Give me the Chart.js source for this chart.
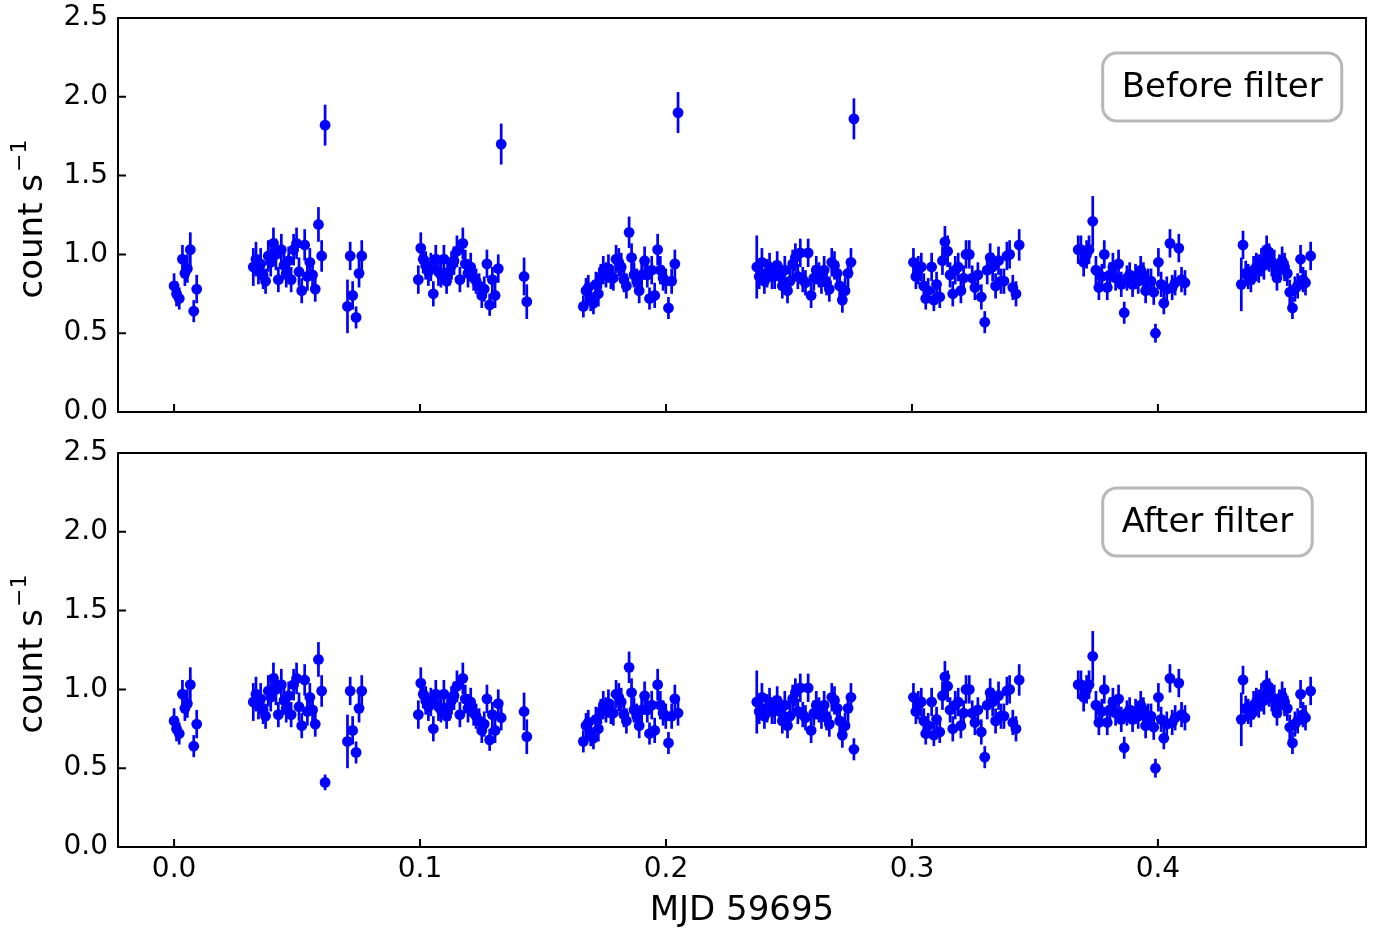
<!DOCTYPE html>
<html>
<head>
<meta charset="utf-8">
<title>Light curve before and after filter</title>
<script src="https://cdn.jsdelivr.net/npm/chart.js@4.4.1/dist/chart.umd.min.js"></script>
<style>
    body { margin: 0; background: #ffffff; overflow: hidden; }
    #wrap { position: relative; width: 1376px; height: 933px; overflow: hidden; }
    canvas { position: absolute; left: 0; }
    #chartBefore { top: -10px; }
    #chartAfter { top: 420px; }
</style>
</head>
<body>
<div id="wrap">
    <canvas id="chartBefore" width="1376" height="450"></canvas>
    <canvas id="chartAfter" width="1376" height="513"></canvas>
</div>
<script>
// tempos (MJD - 59695), um bloco por linha
const mjd = [
    0.0000, 0.0010, 0.0021, 0.0034, 0.0044, 0.0054, 0.0066, 0.0080, 0.0092,
    0.0322, 0.0333, 0.0343, 0.0352, 0.0362, 0.0372, 0.0383, 0.0393, 0.0404, 0.0414, 0.0424, 0.0436, 0.0447, 0.0456, 0.0466, 0.0476, 0.0486, 0.0498, 0.0508, 0.0519, 0.0531, 0.0542, 0.0552, 0.0563, 0.0574, 0.0587, 0.0600, 0.0614,
    0.0705, 0.0716, 0.0726, 0.0740, 0.0752, 0.0763,
    0.0993, 0.1003, 0.1013, 0.1023, 0.1034, 0.1044, 0.1054, 0.1064, 0.1075, 0.1085, 0.1097, 0.1108, 0.1118, 0.1128, 0.1138, 0.1150, 0.1162, 0.1174, 0.1184, 0.1195, 0.1206, 0.1218, 0.1228, 0.1240, 0.1251, 0.1261, 0.1272, 0.1283, 0.1294, 0.1305, 0.1318, 0.1330,
    0.1423, 0.1434,
    0.1664, 0.1675, 0.1684, 0.1694, 0.1705, 0.1715, 0.1725, 0.1735, 0.1745, 0.1756, 0.1766, 0.1776, 0.1786, 0.1797, 0.1808, 0.1818, 0.1829, 0.1839, 0.1850, 0.1860, 0.1870, 0.1881, 0.1891, 0.1901, 0.1913, 0.1924, 0.1933, 0.1942, 0.1954, 0.1966, 0.1977, 0.1988, 0.1999, 0.2010, 0.2023, 0.2036, 0.2049,
    0.2369, 0.2379, 0.2390, 0.2400, 0.2411, 0.2421, 0.2431, 0.2442, 0.2452, 0.2462, 0.2473, 0.2483, 0.2494, 0.2504, 0.2515, 0.2526, 0.2536, 0.2546, 0.2556, 0.2567, 0.2578, 0.2590, 0.2601, 0.2611, 0.2622, 0.2632, 0.2643, 0.2653, 0.2664, 0.2674, 0.2685, 0.2696, 0.2706, 0.2717, 0.2728, 0.2740, 0.2752, 0.2764,
    0.3006, 0.3016, 0.3026, 0.3038, 0.3048, 0.3056, 0.3066, 0.3080, 0.3089, 0.3100, 0.3113, 0.3124, 0.3134, 0.3145, 0.3155, 0.3166, 0.3176, 0.3188, 0.3199, 0.3210, 0.3220, 0.3233, 0.3245, 0.3256, 0.3268, 0.3282, 0.3296, 0.3306, 0.3318, 0.3328, 0.3340, 0.3352, 0.3362, 0.3374, 0.3386, 0.3397, 0.3410, 0.3423, 0.3436,
    0.3676, 0.3687, 0.3698, 0.3710, 0.3720, 0.3735, 0.3748, 0.3760, 0.3772, 0.3782, 0.3794, 0.3805, 0.3817, 0.3828, 0.3840, 0.3851, 0.3863, 0.3874, 0.3885, 0.3897, 0.3909, 0.3920, 0.3930, 0.3941, 0.3950, 0.3960, 0.3972, 0.3983, 0.3990, 0.4002, 0.4013, 0.4024, 0.4036, 0.4049, 0.4058, 0.4070, 0.4085, 0.4096, 0.4110,
    0.4339, 0.4346, 0.4357, 0.4367, 0.4378, 0.4389, 0.4400, 0.4410, 0.4421, 0.4431, 0.4442, 0.4452, 0.4463, 0.4473, 0.4484, 0.4494, 0.4505, 0.4515, 0.4526, 0.4536, 0.4547, 0.4557, 0.4568, 0.4580, 0.4590, 0.4600, 0.4621
]

// taxa de contagem antes do filtro (count/s)
const rateBefore = [
    0.80, 0.75, 0.72, 0.97, 0.88, 0.91, 1.03, 0.64, 0.78,
    0.92, 0.97, 0.90, 0.94, 0.87, 0.83, 0.99, 0.95, 1.07, 1.00, 0.84, 1.03, 0.93, 0.88, 0.96, 0.84, 1.03, 1.07, 0.89, 0.77, 1.06, 0.86, 0.95, 0.87, 0.78, 1.19, 0.99, 1.82,
    0.67, 0.99, 0.74, 0.60, 0.88, 0.99,
    0.84, 1.04, 0.97, 0.93, 0.89, 0.92, 0.75, 0.97, 0.89, 0.87, 0.97, 0.83, 0.89, 0.93, 0.96, 1.02, 0.84, 1.07, 0.94, 0.88, 0.92, 0.85, 0.83, 0.80, 0.74, 0.78, 0.94, 0.68, 0.84, 0.74, 0.91, 1.70,
    0.86, 0.70,
    0.67, 0.77, 0.79, 0.71, 0.69, 0.81, 0.75, 0.86, 0.90, 0.87, 0.91, 0.86, 0.85, 0.97, 0.95, 0.92, 0.84, 0.80, 1.14, 0.98, 0.87, 0.83, 0.77, 0.87, 0.96, 0.87, 0.72, 0.90, 0.74, 1.03, 0.90, 0.85, 0.83, 0.66, 0.83, 0.94, 1.90,
    0.92, 0.86, 0.95, 0.83, 0.88, 0.92, 0.86, 0.87, 0.93, 0.86, 0.80, 0.90, 0.77, 0.83, 0.94, 0.98, 0.86, 1.01, 0.84, 0.82, 1.01, 0.74, 0.85, 0.90, 0.87, 0.83, 0.90, 0.82, 0.78, 0.95, 0.93, 0.88, 0.80, 0.71, 0.77, 0.88, 0.95, 1.86,
    0.95, 0.86, 0.90, 0.92, 0.80, 0.72, 0.77, 0.92, 0.71, 0.81, 0.73, 0.96, 1.08, 1.02, 0.87, 0.75, 0.90, 0.92, 0.77, 0.85, 1.00, 1.00, 0.85, 0.79, 0.87, 0.73, 0.57, 0.90, 0.98, 0.92, 0.80, 0.96, 0.83, 0.83, 0.99, 1.00, 0.79, 0.75, 1.06,
    1.03, 1.03, 0.95, 1.00, 1.03, 1.21, 0.90, 0.79, 0.86, 1.00, 0.79, 0.87, 0.92, 0.85, 0.94, 0.81, 0.63, 0.85, 0.87, 0.81, 0.86, 0.83, 0.90, 0.87, 0.77, 0.83, 0.83, 0.76, 0.50, 0.95, 0.81, 0.69, 0.78, 1.07, 0.79, 0.82, 1.04, 0.84, 0.82,
    0.81, 1.06, 0.88, 0.86, 0.84, 0.90, 0.92, 0.91, 0.95, 0.93, 1.03, 0.98, 0.95, 0.94, 0.85, 0.91, 0.96, 0.92, 0.88, 0.76, 0.66, 0.78, 0.80, 0.97, 0.84, 0.82, 0.99
]

// erro (1 sigma) de cada ponto
const errBefore = [
    0.08, 0.08, 0.07, 0.09, 0.08, 0.09, 0.11, 0.07, 0.09,
    0.12, 0.11, 0.09, 0.10, 0.09, 0.08, 0.10, 0.09, 0.10, 0.10, 0.08, 0.10, 0.09, 0.09, 0.09, 0.08, 0.10, 0.10, 0.09, 0.08, 0.10, 0.09, 0.09, 0.09, 0.08, 0.11, 0.10, 0.13,
    0.17, 0.09, 0.09, 0.07, 0.09, 0.10,
    0.09, 0.10, 0.09, 0.09, 0.09, 0.09, 0.08, 0.09, 0.09, 0.08, 0.09, 0.08, 0.09, 0.09, 0.09, 0.10, 0.08, 0.10, 0.09, 0.09, 0.09, 0.08, 0.08, 0.08, 0.08, 0.08, 0.09, 0.07, 0.08, 0.08, 0.09, 0.13,
    0.12, 0.11,
    0.07, 0.08, 0.08, 0.07, 0.07, 0.08, 0.08, 0.08, 0.09, 0.08, 0.09, 0.08, 0.08, 0.09, 0.09, 0.09, 0.08, 0.08, 0.10, 0.09, 0.08, 0.08, 0.08, 0.08, 0.09, 0.08, 0.07, 0.09, 0.08, 0.10, 0.09, 0.08, 0.08, 0.07, 0.08, 0.09, 0.13,
    0.20, 0.08, 0.09, 0.08, 0.09, 0.09, 0.08, 0.09, 0.09, 0.08, 0.08, 0.09, 0.08, 0.08, 0.09, 0.09, 0.08, 0.09, 0.08, 0.08, 0.09, 0.08, 0.08, 0.09, 0.08, 0.08, 0.09, 0.08, 0.08, 0.09, 0.09, 0.08, 0.08, 0.08, 0.08, 0.09, 0.09, 0.13,
    0.09, 0.08, 0.09, 0.09, 0.08, 0.07, 0.08, 0.09, 0.07, 0.08, 0.07, 0.09, 0.10, 0.10, 0.08, 0.08, 0.09, 0.09, 0.08, 0.08, 0.09, 0.09, 0.08, 0.08, 0.08, 0.08, 0.07, 0.09, 0.09, 0.09, 0.08, 0.09, 0.08, 0.08, 0.09, 0.09, 0.08, 0.08, 0.10,
    0.09, 0.09, 0.09, 0.09, 0.09, 0.16, 0.09, 0.08, 0.08, 0.09, 0.08, 0.08, 0.09, 0.08, 0.09, 0.08, 0.07, 0.08, 0.08, 0.08, 0.08, 0.08, 0.09, 0.08, 0.08, 0.08, 0.08, 0.08, 0.06, 0.09, 0.08, 0.07, 0.08, 0.09, 0.08, 0.08, 0.09, 0.08, 0.08,
    0.17, 0.09, 0.08, 0.08, 0.08, 0.09, 0.09, 0.09, 0.09, 0.09, 0.09, 0.09, 0.09, 0.09, 0.08, 0.09, 0.09, 0.09, 0.08, 0.08, 0.07, 0.08, 0.08, 0.09, 0.08, 0.08, 0.09
]

// pontos que mudam depois do filtro
const flaggedMjd = [0.0614, 0.1330, 0.2049, 0.2764]
const rateFiltered = [0.41, 0.82, 0.85, 0.62]
const errFiltered = [0.05, 0.08, 0.08, 0.07]

const xTickValues = [0.0, 0.1, 0.2, 0.3, 0.4]
const yTickValues = [0.0, 0.5, 1.0, 1.5, 2.0, 2.5]
const xMin = -0.0228
const xMax = 0.4846

const fontFam = '"DejaVu Sans", sans-serif'

let rateAfter = rateBefore.slice()
let errAfter = errBefore.slice()
flaggedMjd.forEach((t, k) => {
    let i = mjd.indexOf(t)
    rateAfter[i] = rateFiltered[k]
    errAfter[i] = errFiltered[k]
})

// barras de erro, moldura, ticks para dentro, titulo do eixo y e caixa de texto
const panelExtras = {
    id: 'panelExtras',
    beforeDatasetsDraw(chart) {
        const ctx = chart.ctx
        const sx = chart.scales.x
        const sy = chart.scales.y
        const ds = chart.data.datasets[0]
        ctx.save()
        ctx.strokeStyle = '#0000ff'
        ctx.lineWidth = 2.7
        ds.data.forEach((p, i) => {
            let px = sx.getPixelForValue(p.x)
            ctx.beginPath()
            ctx.moveTo(px, sy.getPixelForValue(p.y - ds.errors[i]))
            ctx.lineTo(px, sy.getPixelForValue(p.y + ds.errors[i]))
            ctx.stroke()
        })
        ctx.restore()
    },
    afterDraw(chart, args, opts) {
        const ctx = chart.ctx
        const a = chart.chartArea
        const sx = chart.scales.x
        const sy = chart.scales.y
        ctx.save()
        ctx.strokeStyle = '#000000'
        ctx.lineWidth = 2
        ctx.strokeRect(a.left, a.top, a.right - a.left, a.bottom - a.top)

        ctx.beginPath()
        xTickValues.forEach(v => {
            let px = sx.getPixelForValue(v)
            ctx.moveTo(px, a.bottom)
            ctx.lineTo(px, a.bottom - 8)
        })
        yTickValues.forEach(v => {
            let py = sy.getPixelForValue(v)
            ctx.moveTo(a.left, py)
            ctx.lineTo(a.left + 8, py)
        })
        ctx.stroke()

        // titulo do eixo y com expoente
        const mainFont = '34px ' + fontFam
        const supFont = '22px ' + fontFam
        ctx.font = mainFont
        let w1 = ctx.measureText('count s').width
        ctx.font = supFont
        let w2 = ctx.measureText('\u22121').width
        ctx.translate(42, (a.top + a.bottom) / 2 + 4)
        ctx.rotate(-Math.PI / 2)
        ctx.fillStyle = '#000000'
        ctx.textAlign = 'left'
        ctx.textBaseline = 'alphabetic'
        let start = -(w1 + w2 + 2) / 2
        ctx.font = mainFont
        ctx.fillText('count s', start, 0)
        ctx.font = supFont
        ctx.fillText('\u22121', start + w1 + 2, -16)
        ctx.setTransform(1, 0, 0, 1, 0, 0)
        ctx.restore()

        // caixa com o nome do painel
        ctx.save()
        ctx.font = '34px ' + fontFam
        let tw = ctx.measureText(opts.text).width
        let bx = a.left + 0.789 * (a.right - a.left)
        let by = a.top + 35
        let bw = tw + 38
        let bh = 68
        ctx.beginPath()
        ctx.roundRect(bx, by, bw, bh, 14)
        ctx.fillStyle = '#ffffff'
        ctx.fill()
        ctx.lineWidth = 3
        ctx.strokeStyle = '#b8b8b8'
        ctx.stroke()
        ctx.fillStyle = '#000000'
        ctx.textAlign = 'center'
        ctx.textBaseline = 'middle'
        ctx.fillText(opts.text, bx + bw / 2, by + bh / 2 + 1)
        ctx.restore()
    }
}

function criarPainel(canvasId, rates, errs, texto, inferior) {
    let pontos = mjd.map((t, i) => ({ x: t, y: rates[i] }))
    return new Chart(document.getElementById(canvasId), {
        type: 'scatter',
        data: {
            datasets: [{
                data: pontos,
                errors: errs,
                pointRadius: 5.4,
                pointHoverRadius: 5.4,
                pointBackgroundColor: '#0000ff',
                pointBorderWidth: 0,
                showLine: false
            }]
        },
        options: {
            responsive: false,
            animation: false,
            events: [],
            layout: {
                // o painel de cima fica 10px acima da pagina, por isso 28
                padding: inferior ? { top: 33, right: 10, bottom: 0, left: 0 } : { top: 28, right: 10, bottom: 28, left: 0 }
            },
            plugins: {
                legend: { display: false },
                tooltip: { enabled: false },
                panelExtras: { text: texto }
            },
            scales: {
                x: {
                    type: 'linear',
                    min: xMin,
                    max: xMax,
                    grid: { display: false, drawTicks: false },
                    border: { display: false },
                    afterBuildTicks: s => { s.ticks = xTickValues.map(v => ({ value: v })) },
                    afterFit: s => { s.height = inferior ? 86 : 0 },
                    ticks: {
                        display: inferior,
                        padding: 6,
                        color: '#000000',
                        maxRotation: 0,
                        autoSkip: false,
                        font: { family: fontFam, size: 28 },
                        callback: v => v.toFixed(1)
                    },
                    title: {
                        display: inferior,
                        text: 'MJD 59695',
                        color: '#000000',
                        font: { family: fontFam, size: 34 },
                        padding: { top: 0, bottom: 1 }
                    }
                },
                y: {
                    type: 'linear',
                    min: 0,
                    max: 2.5,
                    grid: { display: false, drawTicks: false },
                    border: { display: false },
                    afterBuildTicks: s => { s.ticks = yTickValues.map(v => ({ value: v })) },
                    afterFit: s => { s.width = 118 },
                    ticks: {
                        padding: 10,
                        color: '#000000',
                        font: { family: fontFam, size: 28 },
                        callback: v => v.toFixed(1)
                    }
                }
            }
        },
        plugins: [panelExtras]
    })
}

criarPainel('chartBefore', rateBefore, errBefore, 'Before filter', false)
criarPainel('chartAfter', rateAfter, errAfter, 'After filter', true)
</script>
</body>
</html>
